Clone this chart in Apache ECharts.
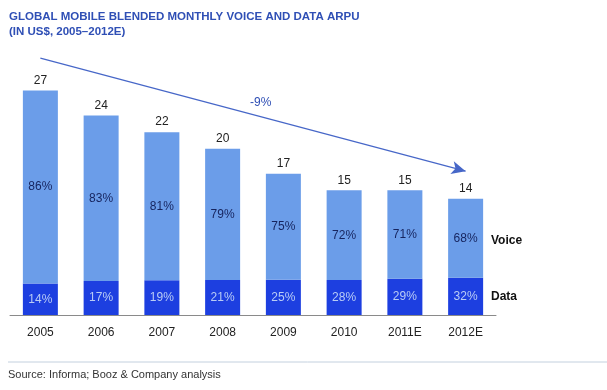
<!DOCTYPE html>
<html>
<head>
<meta charset="utf-8">
<script src="https://cdn.jsdelivr.net/npm/echarts@6/dist/echarts.min.js"></script>
<style>
html,body{margin:0;padding:0;background:#fff;}
#c{width:607px;height:390px;}
</style>
</head>
<body>
<div id="c"></div>
<script>
const categories = ['2005','2006','2007','2008','2009','2010','2011E','2012E'];
const totals = [27, 24, 22, 20, 17, 15, 15, 14];
const dataShare = [14, 17, 19, 21, 25, 28, 29, 32];
const voiceShare = [86, 83, 81, 79, 75, 72, 71, 68];
const trendLabel = '-9%';
const trendStart = ['2005', 30.9];
const trendEnd = ['2012E', 17.3];

const dataVals = totals.map((t, i) => t * dataShare[i] / 100);
const voiceVals = totals.map((t, i) => t - dataVals[i]);

const chart = echarts.init(document.getElementById('c'), null, {renderer: 'canvas'});
const FONT = 'Liberation Sans, Arial, sans-serif';
chart.setOption({
  animation: false,
  textStyle: {fontFamily: FONT},
  title: {
    text: 'GLOBAL MOBILE BLENDED MONTHLY VOICE AND DATA ARPU',
    subtext: '(IN US$, 2005\u20132012E)',
    left: 9, top: 11, itemGap: 3, padding: 0,
    textStyle: {fontFamily: FONT, fontSize: 11.5, fontWeight: 'bold', color: '#2f4fb5'},
    subtextStyle: {fontFamily: FONT, fontSize: 11.5, fontWeight: 'bold', color: '#2f4fb5'}
  },
  grid: {left: 10, width: 486, top: 49, bottom: 75, containLabel: false},
  xAxis: {
    type: 'category', data: categories,
    axisLine: {lineStyle: {color: '#8a8a8a', width: 1}},
    axisTick: {show: false},
    axisLabel: {color: '#222', fontSize: 12, margin: 12, fontFamily: FONT}
  },
  yAxis: {type: 'value', min: 0, max: 32, show: false, splitLine: {show: false}},
  series: [
    {
      name: 'Data', type: 'bar', stack: 'a', data: dataVals, barWidth: 35,
      itemStyle: {color: '#1d3fe0'},
      label: {show: true, position: 'inside', color: '#b9ccf5', fontSize: 12,
        formatter: p => dataShare[p.dataIndex] + '%'}
    },
    {
      name: 'Voice', type: 'bar', stack: 'a', data: voiceVals, barWidth: 35,
      itemStyle: {color: '#6b9de9'},
      label: {show: true, position: 'inside', color: '#16245e', fontSize: 12,
        formatter: p => voiceShare[p.dataIndex] + '%'},
      markLine: {
        silent: true, symbol: ['none', 'arrow'], symbolSize: [10, 14],
        lineStyle: {color: '#4767c8', width: 1.2, type: 'solid'},
        label: {show: false},
        data: [[{coord: trendStart}, {coord: trendEnd}]]
      }
    },
    {
      name: 'Total', type: 'bar', stack: 'a', data: totals.map(() => 0), barWidth: 35,
      itemStyle: {color: 'transparent'},
      label: {show: true, position: 'top', color: '#222', fontSize: 12, distance: 4,
        formatter: p => totals[p.dataIndex]}
    }
  ],
  graphic: [
    {type: 'text', left: 250, top: 97, style: {text: trendLabel, fill: '#2f4fb5', font: '12px ' + FONT}},
    {type: 'text', left: 491, top: 235, style: {text: 'Voice', fill: '#111', font: 'bold 12px ' + FONT}},
    {type: 'text', left: 491, top: 291, style: {text: 'Data', fill: '#111', font: 'bold 12px ' + FONT}},
    {type: 'line', shape: {x1: 8, y1: 362, x2: 607, y2: 362}, style: {stroke: '#c3d0de', lineWidth: 1}},
    {type: 'text', left: 8, top: 369, style: {text: 'Source: Informa; Booz & Company analysis', fill: '#333', font: '11px ' + FONT}}
  ]
});
</script>
</body>
</html>
